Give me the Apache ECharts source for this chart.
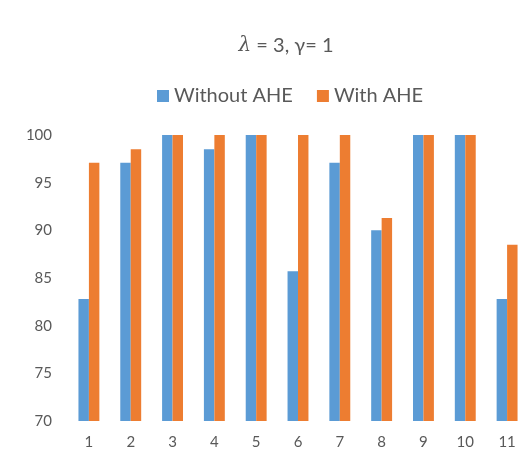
<!DOCTYPE html>
<html>
<head>
<meta charset="utf-8">
<script src="https://cdn.jsdelivr.net/npm/echarts@6/dist/echarts.min.js"></script>
<style>
  html, body { margin: 0; padding: 0; background: #fff; }
  #chart { width: 528px; height: 457px; }
</style>
</head>
<body>
<div id="chart"></div>
<script>
// Test cases 1..11
const categories = ['1', '2', '3', '4', '5', '6', '7', '8', '9', '10', '11'];
const withoutAHE = [82.8, 97.1, 100, 98.5, 100, 85.7, 97.1, 90.0, 100, 100, 82.8];
const withAHE    = [97.1, 98.5, 100, 100, 100, 100, 100, 91.3, 100, 100, 88.5];
const seriesNames = ['Without AHE', 'With AHE'];

const FONT = 'Lato, "Open Sans", sans-serif';
const TEXT = '#595959';

const chart = echarts.init(document.getElementById('chart'), null, { renderer: 'canvas' });
chart.setOption({
  animation: false,
  backgroundColor: '#ffffff',
  title: {
    text: '{l|λ} = 3, γ= 1',
    left: 281,
    textAlign: 'center',
    top: 31,
    textStyle: {
      fontFamily: FONT, fontSize: 20, fontWeight: 'normal', color: TEXT,
      rich: { l: { fontFamily: '"DejaVu Serif", serif', fontStyle: 'italic', fontSize: 20, color: TEXT } }
    }
  },
  legend: {
    data: seriesNames,
    top: 81,
    left: 152,
    icon: 'rect',
    itemWidth: 12,
    itemHeight: 12,
    itemGap: 24,
    textStyle: { fontFamily: FONT, fontSize: 20, color: TEXT }
  },
  grid: { left: 68, right: -2, top: 135, bottom: 36, containLabel: false },
  xAxis: {
    type: 'category',
    data: categories,
    axisLine: { show: false },
    axisTick: { show: false },
    axisLabel: { fontFamily: FONT, fontSize: 15, color: TEXT, margin: 14 }
  },
  yAxis: {
    type: 'value',
    min: 70, max: 100, interval: 5,
    axisLine: { show: false },
    axisTick: { show: false },
    splitLine: { show: false },
    axisLabel: { fontFamily: FONT, fontSize: 15, color: TEXT, margin: 16 }
  },
  series: [
    { name: seriesNames[0], type: 'bar', data: withoutAHE, barGap: '0%', barCategoryGap: '50%',
      itemStyle: { color: '#5B9BD5' } },
    { name: seriesNames[1], type: 'bar', data: withAHE, barGap: '0%', barCategoryGap: '50%',
      itemStyle: { color: '#ED7D31' } }
  ]
});
</script>
</body>
</html>
